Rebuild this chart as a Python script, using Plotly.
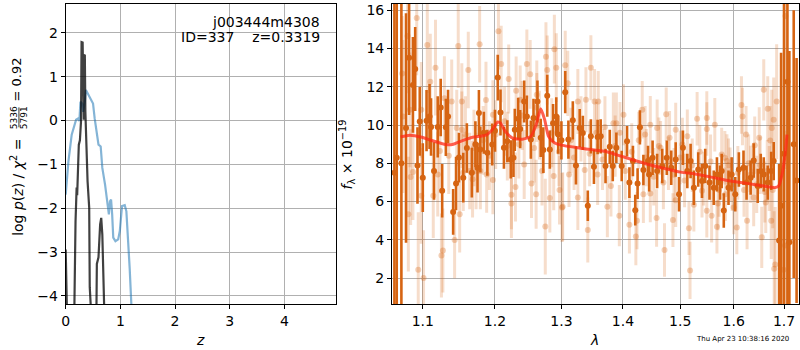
import numpy as np
import plotly.graph_objects as go

# ---------------- Left panel: log p(z) ----------------
z_blue = [0.00, 0.05, 0.11, 0.17, 0.19, 0.23, 0.25, 0.27, 0.30, 0.32, 0.35, 0.37, 0.40, 0.46, 0.50,
          0.53, 0.60, 0.64, 0.67, 0.72, 0.77, 0.79, 0.81, 0.83, 0.85, 0.87, 0.91, 0.96, 0.99, 1.03,
          1.08, 1.11, 1.17, 1.20, 1.25]
lnp_blue = [-1.69, -0.93, -0.32, -0.10, 0.02, 0.05, -0.01, 0.43, 0.39, 0.20, 0.43, 0.70, 0.62, 0.47, 0.39,
            0.05, -0.55, -0.59, -1.08, -1.46, -1.99, -2.14, -1.84, -1.80, -2.14, -2.67, -2.75, -2.71, -2.52, -1.95,
            -1.93, -2.07, -3.36, -4.25, -5.5]

z_black = [0.00, 0.02, 0.05, 0.14, 0.16, 0.18, 0.20, 0.21, 0.24, 0.26, 0.28, 0.29, 0.31, 0.32, 0.33,
           0.34, 0.35, 0.36, 0.38, 0.40, 0.43, 0.44, 0.47, 0.50, 0.55, 0.57, 0.60, 0.63, 0.65, 0.67,
           0.70, 0.71, 0.74]
lnp_black = [-2.94, -4.3, -6.0, -6.0, -3.46, -2.3, -1.53, -1.70, -0.55, -0.45, -0.02, 1.79, 1.78, 0.10, 0.02,
             1.49, 1.50, 0.20, -0.93, -1.38, -1.99, -3.80, -4.5, -6.0, -6.0, -3.27, -3.12, -2.37, -2.22, -2.60,
             -3.80, -4.4, -6.0]

# ---------------- Right panel: spectrum ----------------
lam_dark = [1.063, 1.066, 1.072, 1.078, 1.082, 1.087, 1.090, 1.093, 1.096, 1.100, 1.105, 1.109, 1.111, 1.115,
            1.120, 1.124, 1.126, 1.131, 1.134, 1.141, 1.145, 1.149, 1.155, 1.160, 1.167, 1.172, 1.175, 1.177,
            1.179, 1.184, 1.189, 1.196, 1.200, 1.204, 1.208, 1.213, 1.218, 1.223, 1.227, 1.229, 1.234, 1.237,
            1.243, 1.247, 1.253, 1.257, 1.263, 1.268, 1.272, 1.278, 1.282, 1.287, 1.292, 1.295, 1.300, 1.306,
            1.311, 1.318, 1.323, 1.329, 1.334, 1.342, 1.347, 1.352, 1.358, 1.363, 1.371, 1.378, 1.383, 1.389,
            1.398, 1.407, 1.411, 1.417, 1.421, 1.425, 1.429, 1.435, 1.443, 1.445, 1.451, 1.459, 1.468, 1.476,
            1.484, 1.492, 1.498, 1.505, 1.513, 1.519, 1.525, 1.533, 1.540, 1.546, 1.554, 1.562, 1.568, 1.574,
            1.577, 1.581, 1.590, 1.596, 1.603, 1.610, 1.619, 1.625, 1.633, 1.639, 1.647, 1.653, 1.659, 1.667,
            1.674, 1.679, 1.690, 1.694, 1.700, 1.707, 1.711, 1.720, 1.726]
flux_dark = [7.51, 8.29, 8.0, 9.85, 13.52, 12.10, 12.93, 7.89, 10.19, 7.25, 10.23, 10.45, 9.90, 7.60,
             9.90, 10.92, 6.56, 9.88, 10.45, 5.46, 6.94, 8.3, 7.25, 8.8, 7.51, 9.0, 7.77, 10.63,
             8.72, 9.6, 8.55, 8.98, 9.7, 12.48, 10.66, 8.81, 9.15, 8.20, 8.29, 9.75, 10.33, 9.79,
             11.23, 10.45, 9.24, 10.37, 11.23, 9.33, 8.69, 11.53, 8.72, 10.10, 10.45, 9.50, 9.2, 11.72,
             9.24, 10.25, 7.89, 9.84, 9.59, 5.78, 9.41, 7.82, 9.38, 9.41, 7.86, 8.86, 7.86, 8.81,
             7.86, 9.15, 6.99, 8.12, 5.55, 6.94, 9.88, 7.65, 8.12, 7.42, 8.29, 7.60, 7.86, 8.29,
             7.77, 8.20, 6.38, 8.81, 7.60, 8.12, 6.72, 7.68, 7.08, 7.86, 6.99, 6.72, 7.42, 6.99,
             7.60, 5.53, 6.72, 7.42, 6.38, 7.68, 7.77, 6.99, 7.25, 8.15, 6.82, 7.60, 7.42, 6.99,
             7.60, 8.12, 3.96, 5.78, 8.5, 12.27, 3.87, 9.0, 7.1]
err_dark = [10, 10, 9, 6, 3, 2.5, 2.2, 2.0, 1.8, 1.8, 1.6, 1.7, 1.5, 1.5,
            1.6, 1.5, 1.4, 1.5, 1.4, 1.2, 1.4, 1.3, 1.3, 1.3, 1.3, 1.2, 1.3, 1.2,
            1.2, 1.1, 1.2, 1.1, 1.1, 1.2, 1.2, 1.1, 1.1, 1.0, 1.0, 1.1, 1.1, 1.0,
            1.1, 1.1, 1.0, 1.0, 1.1, 1.0, 1.2, 1.1, 1.0, 1.0, 1.0, 1.0, 1.0, 1.1,
            1.0, 1.0, 1.0, 1.0, 0.9, 0.8, 0.9, 0.9, 0.9, 0.9, 0.9, 0.9, 0.8, 0.8,
            0.8, 0.8, 0.8, 0.8, 0.8, 0.8, 0.9, 0.8, 0.8, 0.9, 0.9, 0.9, 0.9, 0.9,
            0.9, 0.9, 0.9, 0.9, 0.9, 0.9, 0.9, 0.9, 0.9, 0.9, 0.9, 0.9, 0.9, 0.9,
            0.9, 0.9, 0.9, 0.9, 0.9, 0.9, 0.9, 0.9, 0.9, 0.9, 0.9, 0.9, 0.9, 0.9,
            1.0, 1.0, 4, 8, 10, 12, 10, 7, 6.4]

lam_light = [1.073, 1.074, 1.080, 1.081, 1.083, 1.084, 1.087, 1.092, 1.094, 1.098, 1.098, 1.101, 1.106, 1.110,
             1.114, 1.117, 1.120, 1.123, 1.125, 1.127, 1.129, 1.139, 1.143, 1.146, 1.148, 1.150, 1.153, 1.153,
             1.155, 1.162, 1.164, 1.168, 1.173, 1.178, 1.179, 1.187, 1.188, 1.197, 1.197, 1.205, 1.209, 1.220,
             1.224, 1.224, 1.230, 1.231, 1.237, 1.243, 1.247, 1.252, 1.254, 1.261, 1.262, 1.262, 1.270, 1.275,
             1.276, 1.278, 1.282, 1.288, 1.289, 1.292, 1.297, 1.301, 1.302, 1.306, 1.310, 1.312, 1.326, 1.326,
             1.337, 1.339, 1.342, 1.347, 1.353, 1.358, 1.359, 1.374, 1.380, 1.384, 1.389, 1.394, 1.401, 1.404,
             1.411, 1.422, 1.424, 1.433, 1.435, 1.438, 1.447, 1.447, 1.458, 1.459, 1.465, 1.472, 1.475, 1.481,
             1.487, 1.492, 1.492, 1.504, 1.513, 1.516, 1.518, 1.525, 1.531, 1.540, 1.549, 1.549, 1.549, 1.558,
             1.564, 1.568, 1.570, 1.577, 1.583, 1.584, 1.587, 1.593, 1.600, 1.606, 1.615, 1.617, 1.624, 1.626,
             1.633, 1.639, 1.641, 1.650, 1.655, 1.659, 1.663, 1.666, 1.667, 1.672, 1.674, 1.675, 1.679, 1.680,
             1.682, 1.685, 1.699, 1.702, 1.703,
             1.135, 1.158, 1.170, 1.183, 1.192, 1.201, 1.214, 1.218, 1.235, 1.240, 1.258, 1.266, 1.285, 1.296,
             1.315, 1.320, 1.331, 1.345, 1.356, 1.366, 1.370, 1.387, 1.395, 1.415, 1.427, 1.440, 1.453, 1.462,
             1.470, 1.479, 1.489, 1.500, 1.508, 1.522, 1.536, 1.543, 1.556, 1.572, 1.590, 1.597, 1.608, 1.620,
             1.629, 1.645, 1.652, 1.661, 1.670, 1.677]
flux_light = [12.70, 10.45, 14.66, 5.34, 10.80, 7.28, 7.54, 15.60, 2.44, 10.80, 6.30, 2.00, 14.18, 12.27,
              6.30, 13.00, 7.42, 8.64, 3.18, 3.44, 11.40, 11.23, 3.99, 9.84, 14.14, 5.34, 11.23, 9.76,
              7.51, 12.88, 7.60, 7.16, 7.60, 14.23, 7.60, 11.31, 7.42, 10.54, 7.13, 14.91, 13.19, 12.41,
              6.35, 5.90, 6.76, 11.79, 11.32, 7.94, 13.19, 12.65, 6.94, 6.38, 11.58, 10.92, 7.60, 4.69,
              13.57, 12.88, 6.18, 7.34, 13.97, 13.00, 6.60, 5.69, 5.73, 13.13, 12.18, 7.42, 11.23, 6.21,
              7.65, 11.32, 4.51, 13.00, 11.23, 7.42, 11.23, 5.73, 6.82, 10.10, 10.10, 5.26, 10.54, 7.60,
              4.79, 4.17, 5.00, 10.80, 6.38, 9.50, 10.02, 6.42, 5.14, 9.84, 8.81, 3.47, 10.57, 9.33,
              5.03, 9.76, 6.07, 8.98, 9.41, 4.60, 2.40, 5.83, 10.33, 6.56, 10.37, 9.79, 5.52, 5.26,
              10.02, 4.68, 5.90, 8.46, 8.29, 6.38, 8.12, 7.42, 5.69, 4.65, 11.05, 10.45, 9.50, 5.00,
              7.42, 6.21, 8.95, 9.33, 4.13, 11.84, 5.95, 7.60, 10.85, 9.19, 5.00, 9.84, 10.28, 2.49,
              2.71, 11.23, 2.44, 3.70, 15.70,
              8.4, 9.5, 8.8, 9.2, 8.4, 9.5, 10.2, 8.9, 9.0, 10.5, 8.8, 10.0, 9.6, 8.6,
              9.2, 8.3, 9.8, 8.5, 9.6, 8.2, 9.9, 8.9, 9.6, 8.6, 9.2, 8.3, 7.3, 8.9,
              7.0, 8.0, 7.4, 8.3, 7.1, 7.9, 8.6, 7.2, 8.1, 6.6, 7.9, 6.9, 7.5, 6.6,
              8.0, 6.9, 7.9, 6.5, 7.2, 6.6]
err_light = [3.0, 4.0, 3.0, 3.0, 3.0, 2.5, 2.5, 3.0, 3.0, 2.5, 2.5, 2.5, 2.5, 2.5,
             2.2, 2.5, 2.2, 2.2, 2.2, 2.2, 2.2, 2.2, 2.0, 2.0, 2.2, 2.0, 2.0, 2.0,
             2.0, 2.0, 2.0, 2.0, 2.0, 2.0, 2.0, 2.0, 2.0, 1.8, 1.8, 2.0, 2.0, 1.8,
             1.8, 1.8, 1.8, 1.8, 1.8, 1.8, 1.8, 1.8, 1.8, 1.8, 1.8, 1.8, 1.8, 2.5,
             1.8, 1.8, 1.8, 1.8, 1.8, 1.8, 1.8, 1.8, 1.8, 1.8, 1.7, 1.7, 1.7, 1.7,
             1.7, 1.7, 1.7, 1.7, 1.7, 1.6, 1.6, 1.6, 1.6, 1.6, 1.6, 1.6, 1.6, 1.5,
             1.5, 1.5, 1.5, 1.5, 1.5, 1.5, 1.5, 1.5, 1.5, 1.5, 1.4, 1.4, 1.4, 1.4,
             1.4, 1.4, 1.4, 1.4, 1.4, 1.4, 1.5, 1.4, 1.4, 1.4, 1.4, 1.4, 1.4, 1.4,
             1.4, 1.4, 1.4, 1.4, 1.4, 1.4, 1.4, 1.4, 1.4, 1.4, 1.5, 1.5, 1.5, 1.5,
             1.5, 1.5, 1.5, 1.6, 1.6, 1.6, 1.6, 1.6, 1.7, 1.8, 2.0, 2.0, 2.2, 3.0,
             3.0, 3.0, 6.0, 6.0, 8.0,
             2.0, 2.0, 2.0, 1.8, 1.8, 1.8, 1.8, 1.8, 1.8, 1.8, 1.8, 1.8, 1.8, 1.8,
             1.7, 1.7, 1.7, 1.7, 1.6, 1.6, 1.6, 1.6, 1.6, 1.5, 1.5, 1.5, 1.5, 1.5,
             1.4, 1.4, 1.4, 1.4, 1.4, 1.4, 1.4, 1.4, 1.4, 1.4, 1.4, 1.4, 1.4, 1.4,
             1.5, 1.5, 1.5, 1.6, 1.7, 2.0]

lam_model = [1.071, 1.083, 1.099, 1.112, 1.131, 1.140, 1.154, 1.168, 1.187, 1.196, 1.204, 1.208, 1.215, 1.225,
             1.240, 1.253, 1.261, 1.268, 1.274, 1.280, 1.289, 1.300, 1.326, 1.353, 1.370, 1.391, 1.415, 1.444,
             1.472, 1.501, 1.532, 1.562, 1.594, 1.626, 1.659, 1.682, 1.689, 1.696, 1.703, 1.706]
flux_model = [9.38, 9.47, 9.36, 9.19, 8.98, 8.98, 9.19, 9.36, 9.47, 9.76, 10.16, 10.10, 9.67, 9.33,
              9.26, 9.41, 10.02, 10.85, 10.28, 9.41, 9.07, 8.95, 8.81, 8.69, 8.63, 8.43, 8.20, 7.94,
              7.73, 7.54, 7.42, 7.25, 7.07, 6.95, 6.81, 6.73, 6.81, 7.42, 8.63, 9.50]

left_xticks = [0, 1, 2, 3, 4]
left_yticks = [-4, -3, -2, -1, 0, 1, 2]
right_xticks = [1.1, 1.2, 1.3, 1.4, 1.5, 1.6, 1.7]
right_yticks = [2, 4, 6, 8, 10, 12, 14, 16]

W, H = 800, 350
DARK = "rgb(214,100,18)"
NB = "\u00a0"

fig = go.Figure()

fig.add_trace(go.Scatter(x=z_blue, y=lnp_blue, mode="lines",
                         line=dict(color="rgba(31,119,180,0.55)", width=2.2),
                         xaxis="x", yaxis="y", showlegend=False))
fig.add_trace(go.Scatter(x=z_black, y=lnp_black, mode="lines",
                         line=dict(color="rgba(0,0,0,0.75)", width=2.2),
                         xaxis="x", yaxis="y", showlegend=False))

fig.add_trace(go.Scatter(x=lam_light, y=flux_light, mode="markers",
                         marker=dict(color="rgba(214,100,18,0.3)", size=6, line=dict(width=0)),
                         error_y=dict(type="data", array=err_light, color="rgba(214,100,18,0.22)",
                                      thickness=3, width=0),
                         xaxis="x2", yaxis="y2", showlegend=False))
fig.add_trace(go.Scatter(x=lam_dark, y=flux_dark, mode="markers",
                         marker=dict(color=DARK, size=6, line=dict(width=0)),
                         error_y=dict(type="data", array=err_dark, color=DARK,
                                      thickness=2.6, width=0),
                         xaxis="x2", yaxis="y2", showlegend=False))
fig.add_trace(go.Scatter(x=lam_model, y=flux_model, mode="lines",
                         line=dict(color="rgba(255,40,20,0.75)", width=3, shape="spline", smoothing=0.6),
                         xaxis="x2", yaxis="y2", showlegend=False))

axis_common = dict(showline=True, mirror=True, linecolor="black", linewidth=1,
                   showgrid=True, gridcolor="#b0b0b0", gridwidth=1,
                   ticks="outside", ticklen=4, tickcolor="black", zeroline=False,
                   tickfont=dict(family="DejaVu Sans", size=14, color="black"))


def px_x(p):
    return p / W


def px_y(p):
    return 1 - p / H


fig.update_layout(
    width=W, height=H, autosize=False,
    margin=dict(l=0, r=0, t=0, b=0),
    paper_bgcolor="white", plot_bgcolor="white",
    xaxis=dict(axis_common, domain=[px_x(62), px_x(334)], range=[0, 4.95],
               tickvals=left_xticks, anchor="y"),
    yaxis=dict(axis_common, domain=[px_y(304), px_y(2)], range=[-4.19, 2.66],
               tickvals=left_yticks, ticktext=[str(v).replace("-", "\u2212") for v in left_yticks],
               anchor="x"),
    xaxis2=dict(axis_common, domain=[px_x(390), px_x(799)], type="log",
                range=[np.log10(1.06), np.log10(1.731)],
                tickvals=right_xticks, ticktext=[f"{v:.1f}" for v in right_xticks], anchor="y2"),
    yaxis2=dict(axis_common, domain=[px_y(304), px_y(2)], range=[0.63, 16.33],
                tickvals=right_yticks, anchor="x2"),
    font=dict(family="DejaVu Sans", color="black", size=14),
)


def note(x, y, text, size=14, xanchor="center", angle=0):
    return dict(x=px_x(x), y=px_y(y), xref="paper", yref="paper", xanchor=xanchor, yanchor="middle",
                text=text, showarrow=False, font=dict(size=size), textangle=angle)


ann = [
    note(320, 20, "j003444m4308", xanchor="right"),
    note(320, 35, "ID=337    z=0.3319", xanchor="right"),
    note(197, 340, "<i>z</i>"),
    note(593, 340, "<i>λ</i>"),
    # left y label built from pieces so that the fraction is stacked
    note(13, 186, f"log{NB}<i>p</i>(<i>z</i>){NB}/{NB}<i>χ</i><sup>2</sup>{NB}=", size=14, angle=-90),
    note(10, 116, "5336", size=9, angle=-90),
    note(20, 116, "5791", size=9, angle=-90),
    note(13, 78, "=" + NB + "0.92", size=13, angle=-90),
    note(345, 153, "<i>f</i><sub>λ</sub> × 10<sup>−19</sup>", angle=-90),
    note(742, 339, "Thu Apr 23 10:38:16 2020", size=7),
]
fig.update_layout(annotations=ann)
fig.add_shape(type="line", xref="paper", yref="paper",
              x0=px_x(15), x1=px_x(15), y0=px_y(106), y1=px_y(126),
              line=dict(color="black", width=0.8))

fig.write_html("out.html",
               config={"displayModeBar": False},
               post_script="document.body.style.margin='0';document.body.style.padding='0';"
                           "document.body.style.overflow='hidden';")
